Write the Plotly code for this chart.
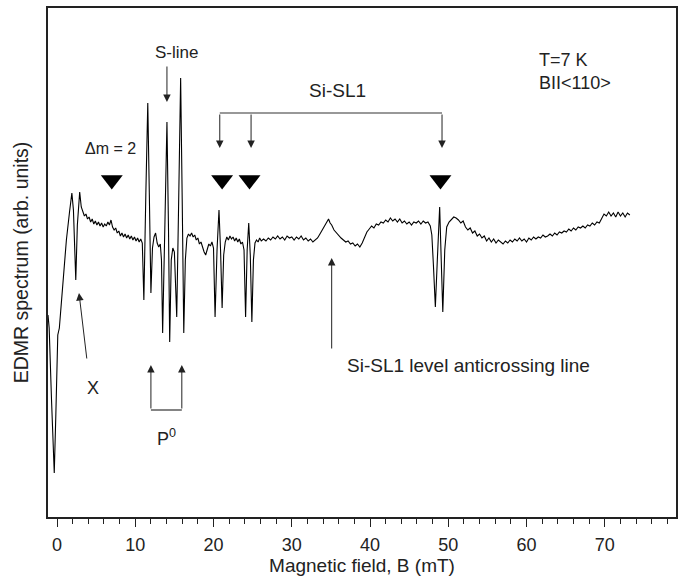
import plotly.graph_objects as go

# EDMR spectrum (field in mT, signal in arb. units)
field_mT = [
	-1.15, -1.0, -0.7, -0.35, -0.15, 0.1, 0.3, 0.7, 1.2, 1.6, 1.9, 2.1, 2.4, 2.6, 2.9, 3.1, 3.3, 3.5, 3.7, 3.9,
	4.1, 4.3, 4.5, 4.7, 4.9, 5.1, 5.3, 5.5, 5.7, 5.9, 6.1, 6.3, 6.5, 6.7, 6.9, 7.1, 7.3, 7.5, 7.7, 7.9,
	8.1, 8.3, 8.5, 8.7, 8.9, 9.1, 9.3, 9.5, 9.7, 9.9, 10.1, 10.3, 10.5, 10.7, 10.9,
	11.1, 11.35, 11.6, 11.8, 12.0, 12.2, 12.4, 12.6, 12.8, 13.0, 13.2, 13.35, 13.5, 13.8, 14.05, 14.25, 14.4,
	14.6, 14.8, 15.0, 15.1, 15.3, 15.55, 15.8, 16.0, 16.2, 16.4, 16.6, 16.8, 17.0, 17.2, 17.4, 17.6, 17.8,
	18.0, 18.2, 18.4, 18.6, 18.8, 19.0, 19.2, 19.4, 19.6, 19.8, 20.0, 20.2, 20.45, 20.7, 20.9, 21.1, 21.3,
	21.5, 21.7, 21.9, 22.1, 22.3, 22.5, 22.7, 22.9, 23.1, 23.3, 23.5, 23.7, 23.9, 24.1, 24.3, 24.5, 24.7,
	24.9, 25.1, 25.3, 25.5, 25.7, 25.9,
	26.1, 26.4, 26.7, 27.0, 27.3, 27.6, 27.9, 28.2, 28.5, 28.8, 29.1, 29.4, 29.7, 30.0, 30.3, 30.6, 30.9,
	31.2, 31.5, 31.8, 32.1, 32.4, 32.7, 33.0, 33.3, 33.6, 33.9, 34.2, 34.5, 34.7, 34.9, 35.1, 35.4, 35.7,
	36.0, 36.3, 36.6, 36.9, 37.2, 37.5, 37.8, 38.1, 38.4, 38.7, 39.0, 39.3, 39.6, 39.9, 40.2, 40.5, 40.8,
	41.1, 41.4, 41.7, 42.0, 42.3, 42.6, 42.9, 43.2, 43.5, 43.8, 44.1, 44.4, 44.7, 45.0, 45.3, 45.6, 45.9,
	46.2, 46.5, 46.8, 47.1, 47.4, 47.7,
	47.9, 48.1, 48.35, 48.6, 48.9, 49.1, 49.3, 49.55, 49.8, 50.1, 50.4, 50.7, 51.0, 51.3,
	51.6, 51.9, 52.2, 52.5, 52.8, 53.1, 53.4, 53.7, 54.0, 54.3, 54.6, 54.9, 55.2, 55.5, 55.8, 56.1, 56.4,
	56.7, 57.0, 57.3, 57.6, 57.9, 58.2, 58.5, 58.8, 59.1, 59.4, 59.7, 60.0, 60.3, 60.6, 60.9, 61.2, 61.5,
	61.8, 62.1, 62.4, 62.7, 63.0, 63.3, 63.6, 63.9, 64.2, 64.5, 64.8, 65.1, 65.4, 65.7, 66.0, 66.3, 66.6,
	66.9, 67.2, 67.5, 67.8, 68.1, 68.4, 68.7, 69.0, 69.3, 69.6, 69.9, 70.2, 70.5, 70.8, 71.1, 71.4, 71.7,
	72.0, 72.3, 72.6, 72.9, 73.2,
]
signal = [
	-75, -88, -160, -233, -175, -95, -88, -45, 0, 28, 47, 30, -40, 15, 48, 33, 28, 24, 26, 21,
	23, 18, 21, 16, 19, 15, 18, 14, 17, 13, 16, 14, 18, 15, 20, 13, 10, 12, 7, 9,
	4, 7, 3, 6, 2, 5, 1, 4, 0, 3, -1, 2, -2, 1, -3,
	-60, 45, 137, 45, -53, -8, 3, 7, -3, -7, -4, -20, -93, 20, 118, 10, -102,
	-20, -8, -12, -30, -77, 40, 162, 40, -93, -20, 2, 6, 4, 7, 3, 5, 0,
	2, -4, -2, -8, -12, -15, -8, -4, -6, -2, -8, -77, -10, 30, -10, -68, -15,
	-2, 3, 0, 4, 1, 3, -1, 2, -2, 1, -4, -2, -10, -77, -10, 17, -15,
	-82, -20, -3, 0, -2, 2,
	-1, 1, -1, 2, 0, 3, 1, 4, 1, 3, 0, 4, 2, 3, 0, 3, 1,
	4, 0, 2, -1, 1, -2, 0, 2, 6, 10, 14, 18, 21, 17, 15, 10, 7,
	4, 2, 0, -2, -1, -4, -3, -6, -4, -7, -3, 3, 8, 11, 14, 12, 16,
	15, 18, 17, 20, 18, 22, 19, 21, 18, 21, 17, 19, 16, 18, 15, 18, 17,
	19, 16, 19, 17, 18, 14,
	5, -25, -67, -20, 33, -20, -72, -10, 13, 18, 21, 23, 22, 20,
	17, 19, 13, 10, 12, 7, 9, 4, 6, 2, 4, -1, 2, -2, 1, -3, 0,
	-2, -4, -1, -3, 0, -2, 1, -1, 2, -1, 1, -2, 2, 0, 3, 1, 3,
	2, 5, 3, 4, 6, 4, 7, 5, 8, 7, 9, 8, 11, 9, 12, 10, 13,
	12, 14, 12, 15, 14, 17, 15, 18, 17, 22, 26, 24, 28, 24, 27, 23, 28,
	24, 27, 23, 27, 25,
]

# line positions marked with triangles / arrows
dm2_line = [7.0]
sisl1_lines = [21.1, 24.6, 49.0]
sisl1_arrows = [20.8, 24.8, 49.2]
p0_lines = [12.0, 15.95]
sline_pos = 14.05
anticross_pos = 35.1

FONT = "Liberation Sans, Arial, sans-serif"

fig = go.Figure()
fig.add_trace(go.Scatter(x=field_mT, y=signal, mode='lines',
		line=dict(color='black', width=1.1), showlegend=False, hoverinfo='skip'))

fig.add_trace(go.Scatter(x=dm2_line + sisl1_lines, y=[60] * 4, mode='markers',
		marker=dict(symbol='triangle-down', size=19, color='black'),
		showlegend=False, hoverinfo='skip'))

def arrow(x, y, ax, ay):
	fig.add_annotation(x=x, y=y, ax=ax, ay=ay, xref='x', yref='y', axref='x', ayref='y',
		text='', showarrow=True, arrowhead=2, arrowsize=1.5, arrowwidth=1, arrowcolor='#222')

def label(x, y, text, size=18, xanchor='center'):
	fig.add_annotation(x=x, y=y, xref='x', yref='y', text=text, showarrow=False,
		xanchor=xanchor, font=dict(size=size, color='#222', family=FONT))

# S-line
label(15.3, 188, 'S-line', 17)
arrow(sline_pos, 138, sline_pos, 175)

# dm=2
label(6.8, 92, '\u0394m = 2', 16)

# Si-SL1 bracket
fig.add_shape(type='line', x0=sisl1_arrows[0], x1=sisl1_arrows[-1], y0=127, y1=127,
	line=dict(color='#333', width=1.2))
for b in sisl1_arrows:
	arrow(b, 92, b, 127)
label(35.9, 150, 'Si-SL1', 19)

# T and orientation
label(61.3, 180, 'T=7 K', 18, 'left')
label(61.3, 157, 'BII&lt;110&gt;', 18, 'left')

# X line
arrow(2.81, -53, 3.83, -120)
label(4.6, -148, 'X', 18)

# P0 doublet
fig.add_shape(type='line', x0=p0_lines[0], x1=p0_lines[1], y0=-170, y1=-170,
	line=dict(color='#333', width=1.2))
for b in p0_lines:
	arrow(b, -125, b, -170)
label(14.05, -197, 'P<sup>0</sup>', 18)

# level anticrossing
arrow(anticross_pos, -18, anticross_pos, -110)
label(36.8, -125, 'Si-SL1 level anticrossing line', 19, 'left')

fig.update_layout(
	width=681, height=579,
	margin=dict(l=48, r=5, t=8, b=62, autoexpand=False),
	plot_bgcolor='white', paper_bgcolor='white',
	font=dict(family=FONT, size=18, color='#222'),
	xaxis=dict(
		range=[-1.15, 79.1], showline=True, mirror=True, linecolor='#222', linewidth=1.6,
		showgrid=False, zeroline=False,
		ticks='outside', tick0=0, dtick=10, ticklen=8, tickcolor='#222', tickwidth=1.4,
		minor=dict(dtick=2, ticks='outside', ticklen=5, tickcolor='#222', tickwidth=1.2),
		tickfont=dict(size=18), ticklabelstandoff=3,
		title=dict(text='Magnetic field, B (mT)', font=dict(size=19), standoff=2),
		automargin=False,
	),
	yaxis=dict(
		range=[-277, 232], showline=True, mirror=True, linecolor='#222', linewidth=1.6,
		showgrid=False, zeroline=False, showticklabels=False, ticks='',
		title=dict(text='EDMR spectrum (arb. units)', font=dict(size=19.5), standoff=12),
		automargin=False,
	),
)

# the page body has an 8px default margin; drop it so the figure fills the window
fig.write_html("out.html", config={'displayModeBar': False},
	post_script="document.body.style.margin='0px';")
